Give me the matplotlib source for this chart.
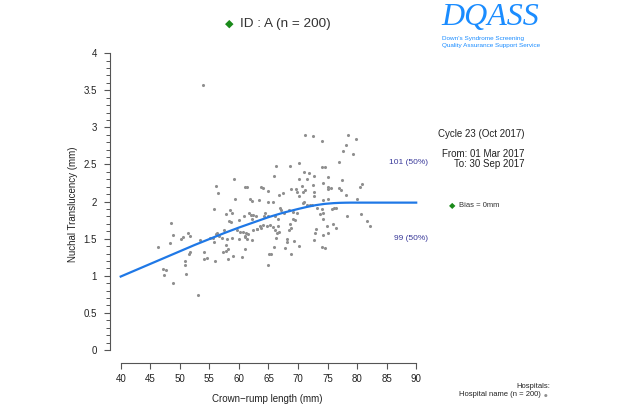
"""
DQASS NT vs CRL scatter — single hospital, cycle 23.
Saves out.png (620x413).
"""
import numpy as np
import matplotlib
matplotlib.use("Agg")
import matplotlib.pyplot as plt

plt.rcParams["font.family"] = ["Liberation Sans", "DejaVu Sans"]

# ── Data ─────────────────────────────────────────────────────────────────────
crl = [
    56.1, 56.5, 55.8, 48.5, 48.9, 51.4, 51.7, 50.6, 50.2, 48.3,
    46.3, 53.4, 55.1, 55.6, 56.3, 55.8, 51.7, 51.6, 54.1, 54.6,
    54.1, 56.0, 50.9, 50.8, 47.1, 47.7, 47.3, 51.0, 48.8, 53.0,
    53.9, 59.1, 61.0, 61.4, 63.7, 64.0, 65.0, 59.3, 61.8, 62.3,
    63.4, 65.0, 58.5, 58.8, 57.8, 61.7, 62.0, 62.4, 62.9, 60.9,
    64.4, 65.0, 58.3, 58.7, 60.1, 62.2, 63.6, 64.0, 63.1, 63.7,
    64.8, 57.4, 56.2, 56.6, 59.6, 60.2, 60.7, 61.2, 61.6, 61.0,
    62.4, 63.0, 57.1, 58.0, 58.9, 60.1, 61.0, 61.3, 62.3, 57.9,
    58.2, 57.3, 57.9, 61.0, 59.0, 58.2, 60.6, 65.1, 65.0, 66.3,
    68.6, 70.1, 65.9, 71.0, 71.9, 72.7, 70.2, 71.5, 72.6, 70.6,
    68.9, 69.7, 69.9, 70.9, 71.2, 66.8, 67.4, 72.7, 70.2, 65.7,
    71.0, 70.8, 71.5, 72.3, 67.0, 67.2, 68.5, 69.2, 69.8, 64.2,
    66.1, 66.7, 67.6, 69.2, 69.5, 73.2, 65.3, 65.8, 66.7, 68.6,
    68.9, 68.4, 66.1, 66.4, 66.8, 73.0, 72.9, 66.3, 68.1, 68.2,
    69.3, 72.7, 70.2, 65.9, 67.8, 65.4, 68.8, 72.5, 74.0, 78.5,
    79.8, 78.1, 77.6, 79.3, 77.0, 74.1, 74.6, 75.1, 77.4, 74.3,
    75.1, 75.0, 75.5, 77.0, 77.2, 80.8, 80.5, 72.7, 78.2, 74.2,
    75.0, 80.0, 72.0, 74.0, 75.7, 76.1, 76.5, 73.7, 74.3, 74.3,
    78.3, 80.6, 81.7, 82.2, 74.9, 75.9, 76.5, 74.3, 75.0, 74.0,
    74.6, 71.2,
]
nt = [
    2.21, 2.12, 1.90, 1.71, 1.55, 1.57, 1.53, 1.52, 1.49, 1.44,
    1.39, 1.48, 1.51, 1.51, 1.57, 1.45, 1.32, 1.29, 1.32, 1.24,
    1.23, 1.20, 1.20, 1.15, 1.09, 1.08, 1.01, 1.03, 0.90, 0.74,
    3.57, 2.30, 2.19, 2.19, 2.19, 2.18, 2.14, 2.03, 2.03, 2.01,
    2.02, 2.00, 1.89, 1.85, 1.83, 1.84, 1.82, 1.82, 1.80, 1.81,
    1.84, 1.80, 1.74, 1.73, 1.75, 1.77, 1.67, 1.68, 1.63, 1.64,
    1.67, 1.62, 1.56, 1.54, 1.62, 1.59, 1.59, 1.58, 1.56, 1.54,
    1.62, 1.63, 1.51, 1.49, 1.51, 1.49, 1.52, 1.49, 1.48, 1.42,
    1.36, 1.32, 1.34, 1.36, 1.27, 1.22, 1.25, 1.30, 1.15, 2.48,
    2.48, 2.52, 2.35, 2.40, 2.38, 2.35, 2.31, 2.30, 2.22, 2.21,
    2.17, 2.17, 2.13, 2.13, 2.16, 2.09, 2.11, 2.07, 2.07, 1.99,
    2.00, 1.98, 1.95, 1.95, 1.92, 1.89, 1.89, 1.86, 1.84, 1.81,
    1.80, 1.77, 1.84, 1.77, 1.75, 1.91, 1.68, 1.66, 1.67, 1.70,
    1.65, 1.62, 1.62, 1.58, 1.59, 1.63, 1.57, 1.51, 1.49, 1.46,
    1.47, 1.48, 1.40, 1.39, 1.37, 1.29, 1.29, 2.89, 2.81, 2.90,
    2.84, 2.76, 2.68, 2.64, 2.53, 2.46, 2.46, 2.33, 2.29, 2.25,
    2.20, 2.17, 2.18, 2.18, 2.15, 2.24, 2.19, 2.13, 2.09, 2.02,
    2.04, 2.03, 1.95, 1.90, 1.90, 1.92, 1.92, 1.83, 1.85, 1.77,
    1.81, 1.83, 1.74, 1.67, 1.67, 1.70, 1.65, 1.55, 1.58, 1.39,
    1.37, 2.90,
]

# fitted median curve (read at knots along the blue line)
curve_crl = [40, 42.5, 45, 47.5, 50, 52.5, 55, 57.5, 60, 62.5, 65,
             67.5, 70, 71.5, 73, 74.5, 76, 77, 78, 79, 80, 90]
curve_nt = [0.99, 1.075, 1.16, 1.245, 1.33, 1.415, 1.495, 1.575, 1.65,
            1.72, 1.79, 1.85, 1.90, 1.928, 1.952, 1.969, 1.979, 1.983,
            1.985, 1.986, 1.986, 1.986]

x_ticks = list(range(40, 95, 5))
y_ticks = [0, 0.5, 1, 1.5, 2, 2.5, 3, 3.5, 4]
y_tick_labels = ["0", "0.5", "1", "1.5", "2", "2.5", "3", "3.5", "4"]

W, H = 620, 413
AXIS_COL = "#555555"


def fp(x, y):
    """pixel (from top-left) -> figure fraction"""
    return x / W, 1 - y / H


# ── Figure ───────────────────────────────────────────────────────────────────
fig = plt.figure(figsize=(6.2, 4.13), dpi=100)
ax = fig.add_axes([110 / W, 1 - 362.7 / H, 315 / W, 317.7 / H])

ax.scatter(crl, nt, s=5, color="#8f8f8f", linewidths=0, zorder=2)
ax.plot(curve_crl, curve_nt, color="#1f78e6", lw=1.6, zorder=3,
        solid_joinstyle="round")

ax.set_xlim(38.19, 91.49)
ax.set_ylim(-0.171, 4.11)

for s in ("top", "right"):
    ax.spines[s].set_visible(False)
for s in ("left", "bottom"):
    ax.spines[s].set_color(AXIS_COL)
    ax.spines[s].set_linewidth(0.8)
ax.spines["left"].set_bounds(0, 4)
ax.spines["bottom"].set_bounds(40, 90)

ax.set_xticks(x_ticks)
ax.set_xticklabels([str(t) for t in x_ticks])
ax.set_yticks(y_ticks)
ax.set_yticklabels(y_tick_labels)
ax.set_yticks(np.arange(0, 4.01, 0.1), minor=True)
ax.tick_params(axis="both", which="major", length=4.5, width=0.8,
               color=AXIS_COL, labelsize=7, labelcolor="#222222", pad=5)
ax.tick_params(axis="x", which="major", pad=3.5)
ax.tick_params(axis="y", which="minor", length=3, width=0.7, color=AXIS_COL)

ax.set_xlabel("Crown\u2212rump length (mm)", fontsize=7, color="#222222",
              labelpad=7)
ax.set_ylabel("Nuchal Translucency (mm)", fontsize=7, color="#222222",
              labelpad=4)

# ── Title + annotations ──────────────────────────────────────────────────────
fig.text(*fp(229, 24), "\u25c6", color="#1a8a1a", fontsize=8,
         ha="center", va="center", family="DejaVu Sans")
fig.text(*fp(240, 24), "ID : A (n = 200)", fontsize=9.7, color="#333333",
         ha="left", va="center")

fig.text(*fp(441, 17), "DQASS", fontsize=23, style="italic",
         family=["Liberation Serif", "DejaVu Serif"], color="#1a8cff",
         ha="left", va="center")
fig.text(*fp(442, 38.5), "Down's Syndrome Screening", fontsize=4.6,
         color="#1a8cff", ha="left", va="center")
fig.text(*fp(442, 46), "Quality Assurance Support Service", fontsize=4.6,
         color="#1a8cff", ha="left", va="center")

fig.text(*fp(524, 134), "Cycle 23 (Oct 2017)", fontsize=7, ha="right",
         va="center", color="#222222")
fig.text(*fp(524, 154), "From: 01 Mar 2017", fontsize=7, ha="right",
         va="center", color="#222222")
fig.text(*fp(524, 164), "To: 30 Sep 2017", fontsize=7, ha="right",
         va="center", color="#222222")

fig.text(*fp(428, 163), "101 (50%)", fontsize=6, ha="right", va="center",
         color="#3a3a9a")
fig.text(*fp(428, 238.5), "99 (50%)", fontsize=6, ha="right", va="center",
         color="#3a3a9a")

fig.text(*fp(452, 205.5), "\u25c6", color="#1a8a1a", fontsize=6,
         ha="center", va="center", family="DejaVu Sans")
fig.text(*fp(459, 205.5), "Bias = 0mm", fontsize=5.5, ha="left",
         va="center", color="#333333")

fig.text(*fp(550, 386), "Hospitals:", fontsize=5.5, ha="right", va="center",
         color="#222222")
fig.text(*fp(541, 394), "Hospital name (n = 200)", fontsize=5.5, ha="right",
         va="center", color="#222222")
fig.text(*fp(546, 395.5), "\u25cf", fontsize=3, ha="center", va="center",
         color="#8f8f8f", family="DejaVu Sans")

fig.savefig("out.png", dpi=100)
plt.close(fig)
